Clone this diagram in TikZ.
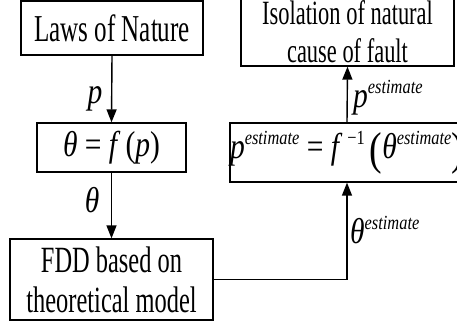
\documentclass[tikz,border=0pt]{standalone}
\usepackage{fontspec}
\setmainfont{Liberation Serif}
\usetikzlibrary{arrows.meta}
\newcommand{\sq}[1]{\scalebox{0.66}[1]{#1}}
\newcommand{\sqm}[1]{\scalebox{0.82}[1]{#1}}
\newcommand{\supx}[1]{\raisebox{14pt}{\fontsize{20}{20}\selectfont\textit{#1}}}
\newcommand{\bigpar}[1]{\raisebox{-6pt}{\fontsize{46}{46}\selectfont #1}}
\begin{document}
\begin{tikzpicture}[x=1pt,y=-1pt,
  box/.style={draw, line width=1.3pt, inner sep=0pt, align=center},
  link/.style={line width=1.4pt, -{Triangle[width=10pt,length=13pt]}},
  lbl/.style={inner sep=0pt, font=\fontsize{36}{40}\selectfont}]
\useasboundingbox (0,0) rectangle (457,321);
\clip (0,0) rectangle (457,321);
\node[box, minimum width=182pt, minimum height=54pt, font=\fontsize{38}{40}\selectfont] (laws) at (112,28) {\sq{Laws of Nature}};
\node[box, minimum width=149pt, minimum height=49pt, font=\fontsize{36}{40}\selectfont] (fp) at (111.5,147.5) {\sqm{\textit{θ} = \textit{f}\,(\textit{p})}};
\node[box, minimum width=203pt, minimum height=81pt, font=\fontsize{37}{40}\selectfont] (fdd) at (111.5,279.5) {\sq{FDD based on}\\ \sq{theoretical model}};
\node[box, minimum width=213pt, minimum height=68pt, font=\fontsize{34}{38}\selectfont] (iso) at (347.5,32) {\sq{Isolation of natural}\\ \sq{cause of fault}};
\node[box, minimum width=232pt, minimum height=59pt, font=\fontsize{36}{40}\selectfont] (pest) at (347,152.5) {\sqm{\textit{p}\supx{estimate} = \textit{f}\,\raisebox{14pt}{\fontsize{20}{20}\selectfont −1}\,\bigpar{(}\textit{θ}\supx{estimate}\bigpar{)}}};
\draw[link] (laws.south) -- (fp.north);
\draw[link] (fp.south) -- (fdd.north);
\draw[link] (fdd.east) -| (pest.south);
\draw[link] (pest.north) -- (iso.south);
\node[lbl, anchor=base] (lp) at (95,103) {\sqm{\textit{p}}};
\node[lbl, anchor=base] (lt) at (92,212) {\sqm{\textit{θ}}};
\node[lbl, anchor=base west] (lte) at (350,243) {\sqm{\textit{θ}\supx{estimate}}};
\node[lbl, anchor=base west] (lpe) at (353,107) {\sqm{\textit{p}\supx{estimate}}};
\end{tikzpicture}
\end{document}
